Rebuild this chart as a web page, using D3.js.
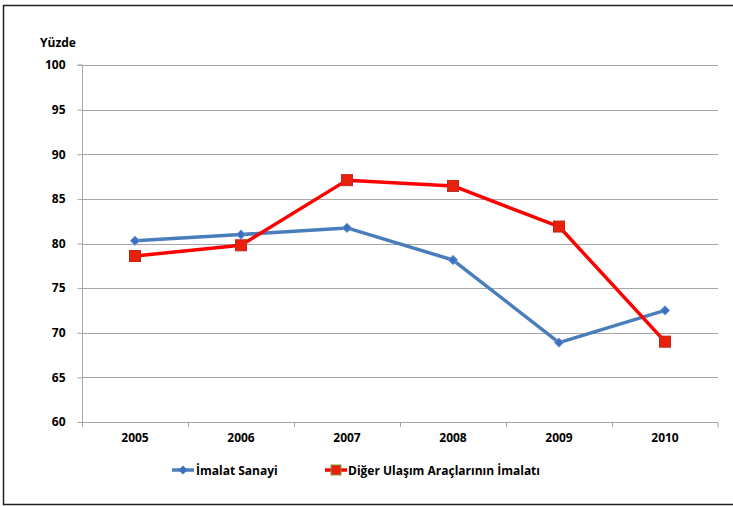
<!DOCTYPE html>
<html><head><meta charset="utf-8">
<script src="https://cdn.jsdelivr.net/npm/d3@7/dist/d3.min.js"></script>
<style>body{margin:0;background:#fff}svg text{font-family:"Open Sans",sans-serif;font-weight:bold;fill:#000}</style>
</head><body>
<svg id="c" width="733" height="506"></svg>
<script>
const years = ["2005","2006","2007","2008","2009","2010"];
const imalat = [80.3, 81.0, 81.75, 78.15, 68.9, 72.5];
const diger = [78.6, 79.8, 87.1, 86.45, 81.9, 69.0];
const yTicks = [60,65,70,75,80,85,90,95,100];
const seriesNames = ["İmalat Sanayi", "Diğer Ulaşım Araçlarının İmalatı"];

const FS = "12px";
const svg = d3.select("#c");
svg.append("rect").attr("x",3.5).attr("y",5.5).attr("width",740).attr("height",499)
  .attr("fill","none").attr("stroke","#222").attr("stroke-width",1.5);

const L=82, R=718, T=65, B=422;
const x = d3.scaleBand().domain(years).range([L,R]);
const y = d3.scaleLinear().domain([60,100]).range([B,T]);

// gridlines
svg.append("g").selectAll("line").data(yTicks.slice(1)).join("line")
  .attr("x1",L).attr("x2",R).attr("y1",d=>Math.round(y(d))+0.5).attr("y2",d=>Math.round(y(d))+0.5)
  .attr("stroke","#a6a6a6").attr("stroke-width",1);

// y axis
const ya = svg.append("g").attr("transform",`translate(${L+0.5},0)`)
  .call(d3.axisLeft(y).tickValues(yTicks).tickSize(5).tickPadding(12));
ya.selectAll("path,line").attr("stroke","#a6a6a6");
ya.select(".domain").attr("d",`M-5,${T}H0V${B}`);
ya.selectAll("text").style("font-size",FS).attr("font-family",null);

// x axis
const xa = svg.append("g").attr("transform",`translate(0,${B+0.5})`)
  .call(d3.axisBottom(x).tickSize(0).tickPadding(11));
xa.select(".domain").attr("stroke","#a6a6a6").attr("d",`M${L},0H${R}V5`);
xa.selectAll("text").style("font-size",FS).attr("font-family",null);
svg.append("g").selectAll("line").data(years.slice(1)).join("line")
  .attr("x1",d=>Math.round(x(d))+0.5).attr("x2",d=>Math.round(x(d))+0.5)
  .attr("y1",B).attr("y2",B+5).attr("stroke","#a6a6a6");
svg.append("line").attr("x1",L+0.5).attr("x2",L+0.5).attr("y1",B).attr("y2",B+5).attr("stroke","#a6a6a6");

svg.append("text").attr("x",40).attr("y",47).style("font-size",FS).text("Yüzde");

const cx = d => x(d)+x.bandwidth()/2;
const line = d3.line().x((d,i)=>cx(years[i])).y(d=>y(d));

// blue
svg.append("path").datum(imalat).attr("d",line).attr("fill","none")
  .attr("stroke","#4a7ebb").attr("stroke-width",3.5).attr("stroke-linejoin","round");
svg.append("g").selectAll("path").data(imalat).join("path")
  .attr("d",d3.symbol(d3.symbolDiamond2,55)())
  .attr("transform",(d,i)=>`translate(${cx(years[i])},${y(d)})`)
  .attr("fill","#3d70c0").attr("stroke","#6a9ad8").attr("stroke-width",1);

// red
svg.append("path").datum(diger).attr("d",line).attr("fill","none")
  .attr("stroke","#ff0000").attr("stroke-width",3.5).attr("stroke-linejoin","round");
svg.append("g").selectAll("rect").data(diger).join("rect")
  .attr("x",(d,i)=>cx(years[i])-5.5).attr("y",d=>y(d)-5.5).attr("width",11).attr("height",11)
  .attr("fill","#e8200c").attr("stroke","#c0281a").attr("stroke-width",1);

// legend
const lg = svg.append("g");
lg.append("line").attr("x1",172).attr("x2",194).attr("y1",470).attr("y2",470).attr("stroke","#4a7ebb").attr("stroke-width",3.5);
lg.append("path").attr("d",d3.symbol(d3.symbolDiamond2,50)()).attr("transform","translate(183,470)").attr("fill","#3d70c0");
lg.append("text").attr("x",196).attr("y",474.5).style("font-size",FS).text(seriesNames[0]);
lg.append("line").attr("x1",325).attr("x2",347).attr("y1",470).attr("y2",470).attr("stroke","#ff0000").attr("stroke-width",3.5);
lg.append("rect").attr("x",331).attr("y",465).attr("width",10).attr("height",10).attr("fill","#e8200c").attr("stroke","#7a9a3a");
lg.append("text").attr("x",348).attr("y",474.5).style("font-size",FS).text(seriesNames[1]);
</script>
</body></html>
